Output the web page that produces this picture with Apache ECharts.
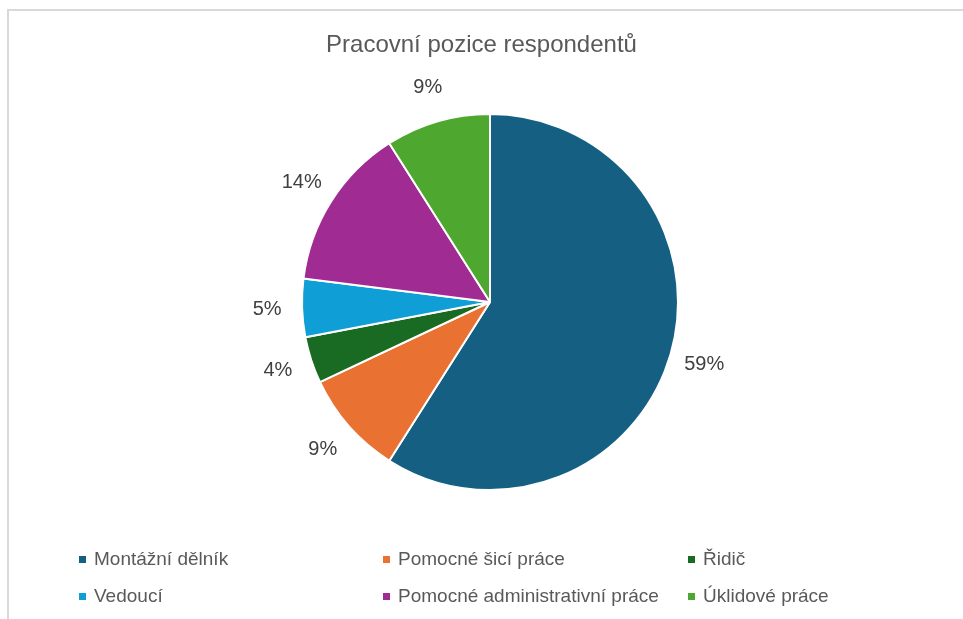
<!DOCTYPE html>
<html>
<head>
<meta charset="utf-8">
<script src="https://cdn.jsdelivr.net/npm/echarts@6/dist/echarts.min.js"></script>
<style>
html,body{margin:0;padding:0;background:#fff;}
#chart{width:963px;height:619px;}
</style>
</head>
<body>
<div id="chart"></div>
<script>
const title = 'Pracovní pozice respondentů';
const categories = ['Montážní dělník', 'Pomocné šicí práce', 'Řidič', 'Vedoucí', 'Pomocné administrativní práce', 'Úklidové práce'];
const values = [59, 9, 4, 5, 14, 9];
const colors = ['#156082', '#E97132', '#196B24', '#0F9ED5', '#A02B93', '#4EA72E'];

const chart = echarts.init(document.getElementById('chart'), null, {renderer: 'canvas'});
const FONT = '"Liberation Sans", Arial, sans-serif';

const pieData = categories.map((c, i) => ({name: c, value: values[i], itemStyle: {color: colors[i]}}));
const labelData = categories.map((c, i) => ({name: c, value: values[i]}));

// legend layout: 3 columns x 2 rows
const colLeft = [77, 381, 686];
const rowTop = [550, 587];
const legends = categories.map((c, i) => ({
  data: [c],
  left: colLeft[i % 3],
  top: rowTop[Math.floor(i / 3)],
  padding: 0,
  orient: 'horizontal',
  icon: 'rect',
  itemWidth: 9,
  itemHeight: 9,
  itemGap: 0,
  selectedMode: false,
  textStyle: {fontFamily: FONT, fontSize: 19, color: '#595959', padding: [0, 0, 0, 2]}
}));

chart.setOption({
  animation: false,
  backgroundColor: '#ffffff',
  title: {
    text: title,
    left: 'center',
    top: 28,
    textStyle: {fontFamily: FONT, fontSize: 24, fontWeight: 'normal', color: '#595959'}
  },
  graphic: [{
    type: 'rect',
    silent: true,
    shape: {x: 8, y: 10, width: 1000, height: 700},
    style: {fill: 'none', stroke: '#d9d9d9', lineWidth: 2}
  }],
  legend: legends,
  series: [
    {
      type: 'pie',
      center: [490, 302],
      radius: [0, 188],
      startAngle: 90,
      clockwise: true,
      data: pieData,
      label: {show: false},
      labelLine: {show: false},
      itemStyle: {borderColor: '#ffffff', borderWidth: 2},
      emphasis: {disabled: true}
    },
    {
      type: 'pie',
      center: [490, 302],
      radius: [190, 250],
      startAngle: 90,
      clockwise: true,
      data: labelData,
      legendHoverLink: false,
      silent: true,
      itemStyle: {color: 'rgba(0,0,0,0)', borderWidth: 0},
      label: {
        show: true,
        position: 'inside',
        rotate: 0,
        formatter: p => p.value + '%',
        fontFamily: FONT,
        fontSize: 20,
        color: '#404040'
      },
      labelLine: {show: false},
      emphasis: {disabled: true}
    }
  ]
});
</script>
</body>
</html>
